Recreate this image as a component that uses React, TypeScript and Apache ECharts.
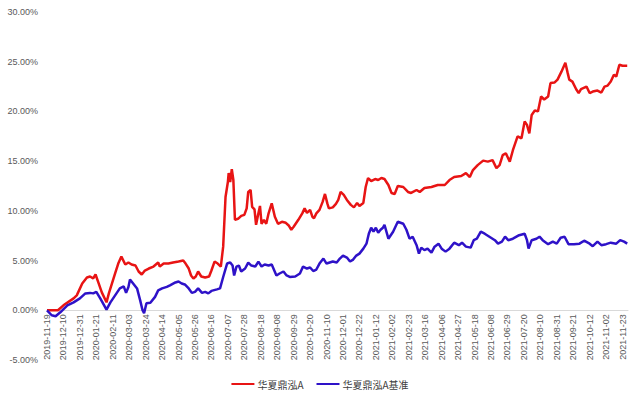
import React, { useEffect, useRef } from "react";
import * as echarts from "echarts";

// x values are calendar-day offsets from 2019-11-19
const startDate = "2019-11-19";
const legendNames = ["华夏鼎泓A", "华夏鼎泓A基准"];

const fundDays = [
  0, 14, 21, 34, 38, 45, 51, 55, 59, 62, 66, 70, 76, 79, 83, 87, 91, 95, 100, 104, 108, 113, 117, 121, 125, 130, 136, 142,
  144, 149, 155, 161, 168, 174, 177, 181, 184, 187, 190, 193, 197, 202, 207, 210, 214, 218, 222, 225, 228, 231, 232, 234,
  236, 238, 240, 244, 248, 252, 255, 257, 260, 262, 265, 267, 270, 272, 274, 277, 280, 283, 287, 291, 295, 300, 305, 309,
  312, 315, 321, 326, 329, 332, 336, 339, 341, 344, 348, 352, 355, 358, 360, 365, 369, 372, 375, 379, 383, 388, 392, 396,
  399, 404, 407, 410, 414, 419, 423, 427, 431, 436, 440, 444, 448, 455, 461, 465, 472, 476, 482, 491, 499, 508, 514, 520,
  529, 535, 540, 544, 550, 557, 563, 569, 574, 578, 582, 586, 591, 595, 601, 606, 610, 613, 616, 619, 623, 627, 631, 635,
  640, 643, 648, 652, 657, 662, 665, 667, 671, 676, 679, 682, 689, 693, 697, 703, 708, 712, 716, 720, 724, 727, 731, 735,
  741,
];
const fundReturns = [
  0.0, 0.0, 0.5, 1.2, 1.5, 2.7, 3.3, 3.4, 3.2, 3.6, 2.7, 1.8, 0.8, 1.7, 2.7, 3.7, 4.7, 5.4, 4.6, 4.8, 4.6, 4.5, 3.9, 3.6,
  4.0, 4.2, 4.4, 4.8, 4.4, 4.7, 4.7, 4.8, 4.9, 5.0, 4.7, 4.2, 3.5, 3.2, 3.4, 3.9, 3.4, 3.3, 3.4, 4.0, 4.9, 4.7, 4.4, 6.4,
  11.4, 12.9, 13.8, 12.9, 14.2, 13.1, 9.1, 9.2, 9.5, 9.6, 10.25, 11.9, 12.1, 10.4, 10.15, 8.6, 9.75, 10.5, 8.7, 9.1, 8.7,
  9.75, 10.75, 9.4, 8.7, 8.9, 8.8, 8.5, 8.1, 8.4, 9.1, 9.75, 10.25, 9.8, 10.1, 9.4, 9.25, 9.75, 10.1, 10.9, 11.7, 10.75,
  10.25, 10.35, 10.7, 11.1, 11.9, 11.6, 11.1, 10.6, 10.35, 10.8, 10.5, 10.8, 12.4, 13.3, 13.0, 13.2, 13.1, 13.3, 13.2,
  12.6, 11.8, 11.7, 12.5, 12.4, 11.9, 11.8, 12.1, 11.9, 12.3, 12.4, 12.6, 12.6, 13.1, 13.4, 13.5, 13.8, 13.4, 14.1, 14.6,
  15.05, 14.95, 15.1, 14.3, 14.6, 15.6, 15.8, 14.95, 16.1, 17.5, 17.3, 19.0, 18.65, 17.8, 19.65, 20.1, 20.0, 21.5, 21.2,
  21.5, 22.85, 22.9, 23.2, 24.0, 24.9, 23.85, 23.2, 23.0, 22.2, 21.85, 22.25, 22.5, 21.85, 22.0, 22.1, 21.9, 22.5, 22.6,
  23.0, 23.7, 23.5, 24.7, 24.6, 24.6,
];

const benchDays = [
  0, 6, 11, 17, 26, 34, 42, 49, 55, 59, 63, 68, 76, 81, 87, 93, 98, 101, 104, 106, 110, 115, 119, 122, 124, 127, 132, 138,
  142, 147, 153, 157, 164, 168, 172, 176, 181, 185, 189, 193, 198, 202, 206, 210, 217, 221, 225, 230, 234, 237, 239, 242,
  245, 248, 253, 257, 261, 266, 270, 274, 278, 283, 287, 293, 297, 302, 306, 310, 317, 323, 327, 332, 336, 340, 344, 348,
  353, 357, 361, 365, 370, 374, 378, 383, 387, 391, 395, 399, 404, 408, 411, 414, 417, 420, 423, 426, 429, 431, 436, 442,
  448, 455, 459, 463, 467, 472, 475, 478, 482, 486, 491, 495, 500, 504, 509, 514, 520, 526, 530, 535, 541, 545, 549, 554,
  559, 565, 572, 576, 581, 585, 589, 595, 603, 610, 613, 615, 619, 625, 629, 633, 640, 646, 651, 656, 661, 666, 673, 680,
  686, 693, 697, 703, 708, 714, 720, 727, 732, 737, 741,
];
const benchReturns = [
  0.0, -0.5, -0.6, -0.2, 0.5, 0.8, 1.2, 1.7, 1.75, 1.7, 1.85, 1.2, 0.07, 0.8, 1.5, 2.2, 2.4, 1.75, 2.35, 3.1, 2.7, 2.2,
  1.0, 0.0, -0.3, 0.7, 0.75, 1.35, 2.0, 2.2, 2.35, 2.5, 2.8, 2.9, 2.7, 2.6, 2.2, 1.75, 1.85, 2.2, 1.75, 1.85, 1.7, 1.95,
  2.1, 2.2, 3.35, 4.7, 4.8, 4.5, 3.5, 4.4, 4.5, 3.9, 4.2, 4.8, 4.5, 4.4, 4.9, 4.4, 4.6, 4.5, 4.6, 3.5, 3.7, 3.9, 3.5,
  3.35, 3.4, 3.7, 4.4, 4.2, 4.3, 3.95, 4.1, 4.7, 5.2, 4.7, 4.8, 4.9, 4.8, 5.2, 5.5, 5.3, 4.9, 5.1, 5.5, 5.7, 6.2, 6.7,
  7.7, 8.3, 7.9, 8.3, 7.8, 8.1, 8.3, 8.6, 7.2, 7.9, 8.9, 8.7, 8.1, 7.2, 7.4, 6.55, 5.7, 6.3, 6.05, 6.2, 5.8, 6.4, 6.7,
  6.2, 5.9, 6.2, 6.8, 6.55, 6.8, 6.4, 6.3, 7.05, 7.2, 7.9, 7.7, 7.4, 7.05, 6.7, 6.9, 7.4, 7.05, 7.2, 7.55, 7.7, 7.05,
  6.2, 7.05, 7.2, 7.4, 7.05, 6.65, 6.9, 6.7, 7.3, 7.4, 6.65, 6.65, 6.7, 7.0, 6.7, 6.45, 6.9, 6.55, 6.65, 6.8, 6.7, 7.05,
  6.9, 6.7,
];

const yTicks = { min: -5, max: 30, step: 5 };
const xTickDays = 21;

function dayToDate(d: number): string {
  const [y, m, dd] = startDate.split("-").map(Number);
  const t = new Date(Date.UTC(y, m - 1, dd) + d * 86400000);
  const mm = String(t.getUTCMonth() + 1).padStart(2, "0");
  const ds = String(t.getUTCDate()).padStart(2, "0");
  return `${t.getUTCFullYear()}-${mm}-${ds}`;
}

const GRID_TOP = 12;
const GRID_BOTTOM = 37;
const H = 397;

export default function App() {
  const ref = useRef<HTMLDivElement>(null);
  useEffect(() => {
    if (!ref.current) return;
    const chart = echarts.init(ref.current, undefined, { renderer: "svg" });
    const fundData = fundDays.map((d, i) => [d, fundReturns[i]]);
    const benchData = benchDays.map((d, i) => [d, benchReturns[i]]);
    const plotH = H - GRID_TOP - GRID_BOTTOM;
    // shift the x axis (line and labels) up to the 0% level
    const zeroOffset = -(plotH * (0 - yTicks.min)) / (yTicks.max - yTicks.min);
    chart.setOption({
      animation: false,
      backgroundColor: "#ffffff",
      grid: {
        left: 47,
        right: 12,
        top: GRID_TOP,
        bottom: GRID_BOTTOM,
        containLabel: false,
        outerBoundsMode: "none",
      },
      legend: {
        data: legendNames,
        top: 374,
        left: "center",
        icon: "rect",
        itemWidth: 23,
        itemHeight: 2,
        itemGap: 13,
        textStyle: { fontFamily: "Noto Sans CJK SC", fontSize: 10, color: "#404040", padding: [0, 0, 0, -2] },
      },
      xAxis: {
        type: "value",
        min: 0,
        max: 742,
        interval: xTickDays,
        position: "bottom",
        offset: zeroOffset,
        axisLine: { onZero: false, lineStyle: { color: "#D9D9D9", width: 1 } },
        axisTick: { show: false },
        splitLine: { show: false },
        axisLabel: {
          rotate: 90,
          fontSize: 9,
          fontFamily: "Liberation Sans",
          color: "#595959",
          margin: 4,
          showMaxLabel: false,
          formatter: (v: number) => (v % xTickDays === 0 ? dayToDate(v) : ""),
        },
      },
      yAxis: {
        type: "value",
        min: yTicks.min,
        max: yTicks.max,
        interval: yTicks.step,
        axisLine: { show: false },
        axisTick: { show: false },
        splitLine: { show: false },
        axisLabel: {
          fontSize: 9,
          fontFamily: "Liberation Sans",
          color: "#595959",
          margin: 9,
          formatter: (v: number) => v.toFixed(2) + "%",
        },
      },
      series: [
        {
          name: legendNames[0],
          type: "line",
          data: fundData,
          showSymbol: false,
          symbol: "none",
          lineStyle: { color: "#E81414", width: 2.5 },
          itemStyle: { color: "#E81414" },
        },
        {
          name: legendNames[1],
          type: "line",
          data: benchData,
          showSymbol: false,
          symbol: "none",
          lineStyle: { color: "#2E12C8", width: 2.5 },
          itemStyle: { color: "#2E12C8" },
        },
      ],
    });
    return () => chart.dispose();
  }, []);
  return <div ref={ref} style={{ position: "fixed", left: 0, top: 0, width: 640, height: 397 }} />;
}
